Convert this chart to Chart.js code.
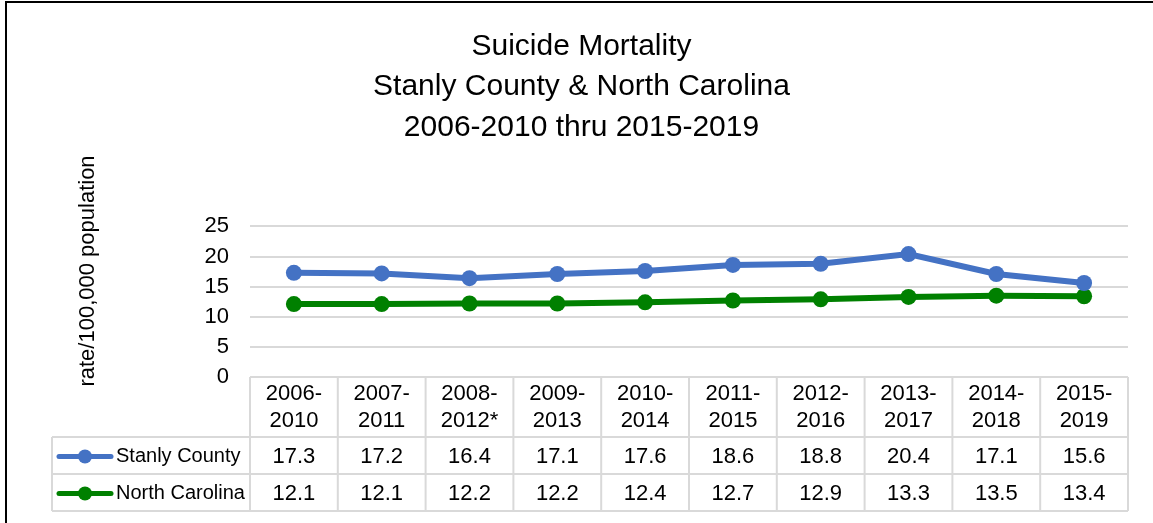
<!DOCTYPE html>
<html>
<head>
<meta charset="utf-8">
<title>Suicide Mortality</title>
<script src="https://cdn.jsdelivr.net/npm/chart.js@4/dist/chart.umd.min.js"></script>
<style>
  html, body { margin: 0; padding: 0; background: #fff; }
  #wrap { position: relative; width: 1153px; height: 523px; }
  #frame {
    position: absolute; left: 5px; top: 1px; right: 0; bottom: 0;
    border-top: 2px solid #000; border-left: 2px solid #000;
    pointer-events: none;
  }
</style>
</head>
<body>
<div id="wrap">
  <canvas id="chart" width="1153" height="523"></canvas>
  <div id="frame"></div>
</div>
<script>
// 5-year aggregate periods
const periods = [
    ['2006-', '2010'], ['2007-', '2011'], ['2008-', '2012*'], ['2009-', '2013'], ['2010-', '2014'],
    ['2011-', '2015'], ['2012-', '2016'], ['2013-', '2017'], ['2014-', '2018'], ['2015-', '2019']
];

// rate per 100,000 population
const stanlyCounty = [17.3, 17.2, 16.4, 17.1, 17.6, 18.6, 18.8, 20.4, 17.1, 15.6];
const northCarolina = [12.1, 12.1, 12.2, 12.2, 12.4, 12.7, 12.9, 13.3, 13.5, 13.4];

const seriesNames = ['Stanly County', 'North Carolina'];
const seriesColors = ['#4472C4', '#008000'];

const yMin = 0;
const yMax = 25;
const yStep = 5;

const FONT = "'Liberation Sans Narrow', 'Arial Narrow', 'Liberation Sans', Arial, sans-serif";

// Draws the data table under the plot (period header + one row per series)
const dataTable = {
    id: 'dataTable',
    afterDraw(chart) {
        const ctx = chart.ctx;
        const x = chart.scales.x;
        const area = chart.chartArea;
        const half = (x.getPixelForValue(1) - x.getPixelForValue(0)) / 2;
        const headTop = area.bottom;
        const rowTop = headTop + 60;
        const rowH = 37;
        const keyLeft = 52;
        const rows = [stanlyCounty, northCarolina];

        ctx.save();
        ctx.strokeStyle = '#D9D9D9';
        ctx.lineWidth = 2;
        ctx.beginPath();
        for (let i = 0; i <= periods.length; i++) {
            const px = x.getPixelForValue(i) - half;
            ctx.moveTo(px, headTop);
            ctx.lineTo(px, rowTop + rows.length * rowH);
        }
        ctx.moveTo(keyLeft, rowTop);
        ctx.lineTo(keyLeft, rowTop + rows.length * rowH);
        for (let r = 0; r <= rows.length; r++) {
            ctx.moveTo(keyLeft, rowTop + r * rowH);
            ctx.lineTo(area.right, rowTop + r * rowH);
        }
        ctx.stroke();

        ctx.textBaseline = 'middle';
        rows.forEach((values, r) => {
            const cy = rowTop + r * rowH + rowH / 2 + 1;
            ctx.font = '22px ' + FONT;
            ctx.fillStyle = '#000';
            ctx.textAlign = 'center';
            values.forEach((v, i) => {
                ctx.fillText(v.toFixed(1), x.getPixelForValue(i), cy);
            });

            // legend key
            ctx.strokeStyle = seriesColors[r];
            ctx.fillStyle = seriesColors[r];
            ctx.lineWidth = 5;
            ctx.lineCap = 'round';
            ctx.beginPath();
            ctx.moveTo(59, cy);
            ctx.lineTo(111, cy);
            ctx.stroke();
            ctx.beginPath();
            ctx.arc(85, cy, 7, 0, Math.PI * 2);
            ctx.fill();

            ctx.font = '20px ' + FONT;
            ctx.fillStyle = '#000';
            ctx.textAlign = 'left';
            ctx.fillText(seriesNames[r], 116, cy);
        });

        // y axis title
        ctx.font = '22px ' + FONT;
        ctx.translate(88, 271);
        ctx.rotate(-Math.PI / 2);
        ctx.textAlign = 'center';
        ctx.fillText('rate/100,000 population', 0, 0);
        ctx.restore();
    }
};

const ctx = document.getElementById('chart').getContext('2d');
const chart = new Chart(ctx, {
    type: 'line',
    data: {
        labels: periods,
        datasets: [stanlyCounty, northCarolina].map((values, i) => ({
            label: seriesNames[i],
            data: values,
            borderColor: seriesColors[i],
            backgroundColor: seriesColors[i],
            borderWidth: 6,
            pointRadius: 8,
            pointHoverRadius: 8,
            pointBorderWidth: 0,
            tension: 0,
            fill: false
        }))
    },
    options: {
        responsive: false,
        animation: false,
        layout: { padding: { left: 35, right: 25, top: 0, bottom: 0 } },
        plugins: {
            legend: { display: false },
            tooltip: { enabled: false },
            title: {
                display: true,
                text: ['Suicide Mortality', 'Stanly County & North Carolina', '2006-2010 thru 2015-2019'],
                color: '#000',
                font: { family: FONT, size: 30, weight: 'normal', lineHeight: 1.36 },
                padding: { top: 26, bottom: 78 }
            }
        },
        scales: {
            x: {
                offset: true,
                grid: { display: false, drawTicks: false },
                border: { display: false },
                ticks: {
                    color: '#000',
                    font: { family: FONT, size: 22, lineHeight: 1.2 },
                    padding: 4,
                    maxRotation: 0,
                    autoSkip: false
                },
                afterFit(scale) { scale.height = 146; }
            },
            y: {
                min: yMin,
                max: yMax,
                grid: { color: '#D9D9D9', lineWidth: 2, drawTicks: false },
                border: { display: false },
                ticks: {
                    stepSize: yStep,
                    color: '#000',
                    font: { family: FONT, size: 22 },
                    padding: 21
                },
                afterFit(scale) { scale.width = 215; }
            }
        }
    },
    plugins: [dataTable]
});
</script>
</body>
</html>
